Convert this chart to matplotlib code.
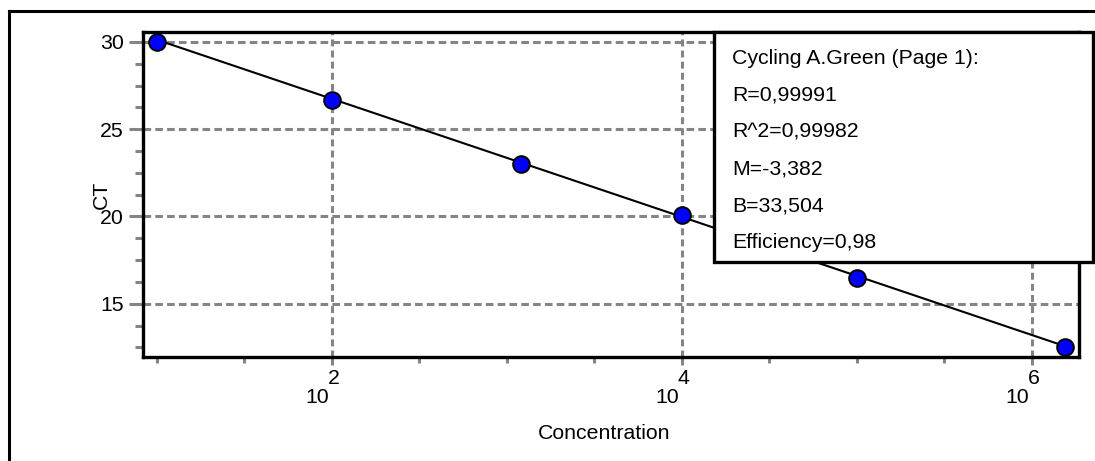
import numpy as np
import matplotlib
matplotlib.use('Agg')
import matplotlib.pyplot as plt
from matplotlib.patches import Rectangle
from matplotlib.lines import Line2D
from matplotlib.ticker import FixedLocator, NullFormatter
from matplotlib.transforms import offset_copy

# data
concentration = [10, 100, 1200, 1e4, 1e5, 1.55e6]
ct = [30.0, 26.7, 23.0, 20.1, 16.45, 12.55]

# regression summary shown in the box
slope_m = -3.382
intercept_b = 33.504
stats_lines = ['Cycling A.Green (Page 1):', 'R=0,99991', 'R^2=0,99982',
               'M=-3,382', 'B=33,504', 'Efficiency=0,98']

x_major_exp = [2, 4, 6]
x_minor_exp = [1, 1.5, 2.5, 3, 3.5, 4.5, 5, 5.5]
y_major = [15, 20, 25, 30]
y_minor = [12.5, 13.75, 16.25, 17.5, 18.75, 21.25, 22.5, 23.75, 26.25, 27.5, 28.75]

W, H = 1095, 461
plt.rcParams['font.family'] = ['Liberation Sans', 'DejaVu Sans']
plt.rcParams['lines.scale_dashes'] = False
grey = '#858585'
fs = 15.3

def fx(x):
    return x / W

def fy(y):
    return 1 - y / H

fig = plt.figure(figsize=(W / 100, H / 100), dpi=100)
ax = fig.add_axes([fx(143), fy(357), fx(1079) - fx(143), fy(32) - fy(357)])

ax.set_xscale('log')
ax.set_xlim(10 ** 0.92, 10 ** 6.27)
ax.set_ylim(11.95, 30.57)

# grid
for e in x_major_exp:
    ax.axvline(10 ** e, color=grey, lw=2.2, ls=(0, (5, 3)), zorder=1)
for v in y_major:
    ax.axhline(v, color=grey, lw=2.2, ls=(0, (5.5, 3)), zorder=1)

# fit line and points
xl = np.logspace(np.log10(concentration[0]), np.log10(concentration[-1]), 50)
ax.plot(xl, slope_m * np.log10(xl) + intercept_b, color='black', lw=1.5, zorder=3)
ax.plot(concentration, ct, 'o', ms=12, mfc='#0000ff', mec='black', mew=1.4,
        zorder=4, clip_on=False)

# ticks
ax.xaxis.set_major_locator(FixedLocator([10 ** e for e in x_major_exp]))
ax.xaxis.set_minor_locator(FixedLocator([10 ** e for e in x_minor_exp]))
ax.xaxis.set_major_formatter(NullFormatter())
ax.xaxis.set_minor_formatter(NullFormatter())
ax.set_yticks(y_major)
ax.set_yticks(y_minor, minor=True)
ax.set_yticklabels([str(v) for v in y_major])
ax.tick_params(axis='y', which='major', length=10, width=2.2, color=grey,
               labelsize=fs, pad=4)
ax.tick_params(axis='y', which='minor', length=5.5, width=2.2, color=grey)
ax.tick_params(axis='x', which='major', length=6, width=2.2, color=grey)
ax.tick_params(axis='x', which='minor', length=4, width=2.2, color=grey)

for e in x_major_exp:
    t1 = offset_copy(ax.get_xaxis_transform(), fig=fig, x=-2.2, y=-33, units='points')
    ax.text(10 ** e, 0, '10', transform=t1, ha='right', va='baseline', fontsize=fs)
    t2 = offset_copy(ax.get_xaxis_transform(), fig=fig, x=-2.8, y=-19.5, units='points')
    ax.text(10 ** e, 0, str(e), transform=t2, ha='left', va='baseline', fontsize=fs)

for s in ax.spines.values():
    s.set_linewidth(2.4)
    s.set_color('black')

fig.text(fx(604), fy(433), 'Concentration', ha='center', va='center', fontsize=fs)
fig.text(fx(101), fy(195), 'CT', ha='center', va='center', rotation=90, fontsize=fs)

# outer frame
fig.add_artist(Line2D([fx(9), 1.01], [fy(11), fy(11)], color='black', lw=2.2,
                      transform=fig.transFigure))
fig.add_artist(Line2D([fx(9), fx(9)], [-0.01, fy(11)], color='black', lw=2.2,
                      transform=fig.transFigure))

# stats box
box = Rectangle((fx(714), fy(262)), fx(1093) - fx(714), fy(32) - fy(262),
                facecolor='white', edgecolor='black', lw=2.4,
                transform=fig.transFigure, zorder=10)
fig.add_artist(box)
for i, line in enumerate(stats_lines):
    fig.text(fx(732), fy(64 + i * 36.8), line, ha='left', va='baseline',
             fontsize=fs, zorder=11)

fig.savefig('out.png', dpi=100)
